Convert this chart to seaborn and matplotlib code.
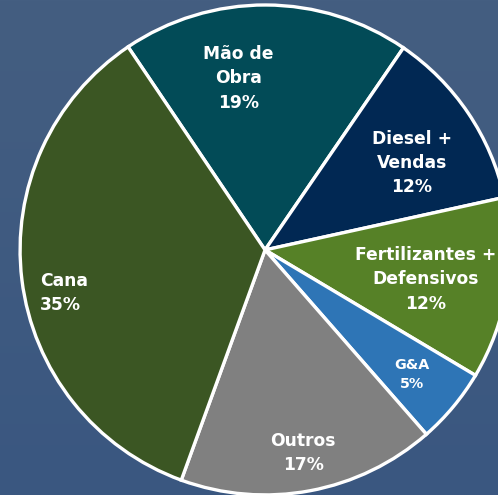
import numpy as np
import matplotlib
matplotlib.use("Agg")
import matplotlib.pyplot as plt
import seaborn as sns

# slices, clockwise from the top
labels = ["Mão de\nObra\n19%", "Diesel +\nVendas\n12%", "Fertilizantes +\nDefensivos\n12%",
          "G&A\n5%", "Outros\n17%", "Cana\n35%"]
shares = [19, 12, 12, 5, 17, 35]
colors = ["#024b57", "#012853", "#568127", "#2e75b6", "#808080", "#3b5623"]

# label anchor points (pie radius = 1)
label_xy = [(-0.11, 0.70), (0.60, 0.355), (0.655, -0.12), (0.60, -0.51), (0.155, -0.83), (-0.92, -0.175)]
label_ha = ["center", "center", "center", "center", "center", "left"]
label_size = [12.3, 12.3, 12.3, 10.3, 12.3, 12.3]

sns.set_style("white")
plt.rcParams["font.family"] = ["DejaVu Sans"]

fig = plt.figure(figsize=(4.98, 4.95), dpi=100)

# background gradient
bg = fig.add_axes([0, 0, 1, 1])
top = np.array([0x44, 0x5e, 0x81]) / 255
bot = np.array([0x3a, 0x57, 0x80]) / 255
t = np.linspace(0, 1, 256)[:, None]
grad = top * (1 - t) + bot * t
bg.imshow(grad[:, None, :].repeat(2, axis=1), aspect="auto", extent=[0, 1, 0, 1])
bg.axis("off")

ax = fig.add_axes([0, 0, 1, 1])
ax.patch.set_alpha(0)
ax.pie(shares, colors=colors, startangle=124, counterclock=False,
       wedgeprops=dict(edgecolor="white", linewidth=2.4))

for lab, (x, y), ha, fs in zip(labels, label_xy, label_ha, label_size):
    ax.text(x, y, lab, ha=ha, va="center", color="white", fontsize=fs,
            fontweight="bold", linespacing=1.45, multialignment=ha)

ax.set_xlim(-1.082, 0.951)
ax.set_ylim(-1.0, 1.02)
ax.set_aspect("equal")
ax.axis("off")

fig.savefig("out.png", dpi=100)
